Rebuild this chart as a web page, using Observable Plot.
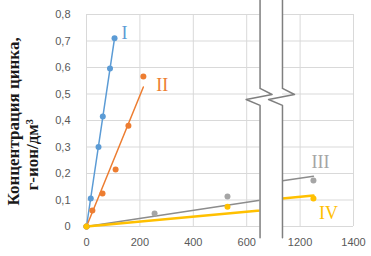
<!DOCTYPE html>
<html><head><meta charset="utf-8">
<script src="https://cdn.jsdelivr.net/npm/d3@7"></script>
<script src="https://cdn.jsdelivr.net/npm/@observablehq/plot@0.6"></script>
<style>body{margin:0;background:#fff} #chart{width:371px;height:256px}</style>
</head><body><div id="chart"></div>
<script>
// ---- data ----
const seriesNames = ["I", "II", "III", "IV"];
const seriesColors = ["#5B9BD5", "#ED7D31", "#A5A5A5", "#FFC000"];
const lineColors = ["#5B9BD5", "#ED7D31", "#8C8C8C", "#FFC000"];
const xI = [0, 16, 45, 61, 88, 105];
const yI = [0, 0.106, 0.30, 0.415, 0.596, 0.71];
const xII = [0, 22, 60, 109, 157, 213];
const yII = [0, 0.06, 0.125, 0.215, 0.38, 0.566];
const xIII = [0, 255, 528, 1250];
const yIII = [0, 0.049, 0.113, 0.174];
const xIV = [0, 528, 1250];
const yIV = [0, 0.075, 0.106];
const xTickLabels = [0, 200, 400, 600, 1200, 1400];
const yTicks = [0, 0.1, 0.2, 0.3, 0.4, 0.5, 0.6, 0.7, 0.8];
const yTitle1 = "Концентрация цинка,";
const yTitle2 = "г-ион/дм³";
// axis break: actual x values at the two edges, and the amount cut out
const BREAK = [650, 1134];
const SHIFT = 400;

function toDisplay(v) {
  if (v <= BREAK[0]) return v;
  if (v >= BREAK[1]) return v - SHIFT;
  return BREAK[0] + (v - BREAK[0]) * ((BREAK[1] - SHIFT - BREAK[0]) / (BREAK[1] - BREAK[0]));
}
const fromDisplay = d => d > BREAK[0] ? d + SHIFT : d;

const xs = [xI, xII, xIII, xIV], ys = [yI, yII, yIII, yIV];
const points = [];
const trend = [];
const lastPts = [];
xs.forEach((xa, s) => {
  const ya = ys[s];
  xa.forEach((x, i) => points.push({s, x: toDisplay(x), y: ya[i]}));
  // linear trend through the origin (least squares)
  const slope = d3.sum(xa, (x, i) => x * ya[i]) / d3.sum(xa, x => x * x);
  const xmax = d3.max(xa);
  const tx = xmax > BREAK[1] ? [0, BREAK[0], BREAK[1], xmax] : [0, xmax];
  tx.forEach(x => trend.push({s, x: toDisplay(x), y: slope * x}));
  lastPts.push({s, x: toDisplay(xa[xa.length - 1]), y: ya[ya.length - 1]});
});

const lo = toDisplay(BREAK[0]), hi = toDisplay(BREAK[1]);
const band = [{x1: lo, x2: hi, y1: -0.042, y2: 0.86}];
function breakLine(x0) {
  return [
    {x: x0, y: 0.86}, {x: x0, y: 0.521}, {x: x0 + 45, y: 0.498},
    {x: x0 - 52, y: 0.479}, {x: x0, y: 0.457}, {x: x0, y: -0.042}
  ];
}
const labelOffsets = [[10, -5], [19, 9], [7, -18], [15, 15]];

const font = "Liberation Sans, Arial, sans-serif";
const chart = Plot.plot({
  width: 371, height: 256,
  marginLeft: 86, marginRight: 18, marginTop: 14, marginBottom: 30,
  style: {background: "#fff", fontFamily: font},
  x: {domain: [0, 1000]},
  y: {domain: [0, 0.8]},
  marks: [
    Plot.gridY(yTicks, {stroke: "#d9d9d9", strokeOpacity: 1}),
    Plot.gridX(xTickLabels.map(toDisplay), {stroke: "#d9d9d9", strokeOpacity: 1}),
    ...[0, 1, 2, 3].map(s => Plot.line(trend.filter(d => d.s === s), {
      x: "x", y: "y", stroke: lineColors[s], strokeWidth: s === 3 ? 2.5 : 1.5
    })),
    ...[0, 1, 2, 3].map(s => Plot.dot(points.filter(d => d.s === s), {
      x: "x", y: "y", r: 3, fill: seriesColors[s], stroke: "none"
    })),
    Plot.rect(band, {x1: "x1", x2: "x2", y1: "y1", y2: "y2", fill: "white"}),
    Plot.line(breakLine(lo), {x: "x", y: "y", stroke: "#7f7f7f", strokeWidth: 1.5}),
    Plot.line(breakLine(hi), {x: "x", y: "y", stroke: "#7f7f7f", strokeWidth: 1.5}),
    ...lastPts.map((p, s) => Plot.text([p], {
      x: "x", y: "y", text: () => seriesNames[s], fill: seriesColors[s],
      fontFamily: "Liberation Serif, Times New Roman, serif", fontSize: 18,
      dx: labelOffsets[s][0], dy: labelOffsets[s][1]
    })),
    Plot.axisX(xTickLabels.map(toDisplay), {
      tickSize: 0, tickPadding: 12, tickFormat: d => String(fromDisplay(d)),
      fontSize: 11, fill: "#595959", label: null
    }),
    Plot.axisY(yTicks, {
      tickSize: 0, tickPadding: 16,
      tickFormat: d => d === 0 ? "0" : d.toFixed(1).replace(".", ","),
      fontSize: 11, fill: "#595959", label: null
    }),
    Plot.text([yTitle1], {
      frameAnchor: "bottom-left", text: d => d, rotate: -90, textAnchor: "start",
      dx: -68, dy: -21, fontSize: 17, fontWeight: "bold", fill: "#1a1a1a",
      fontFamily: "Liberation Serif, Times New Roman, serif"
    }),
    Plot.text([yTitle2], {
      frameAnchor: "bottom-left", text: d => d, rotate: -90, textAnchor: "start",
      dx: -49, dy: -36, fontSize: 17, fontWeight: "bold", fill: "#1a1a1a",
      fontFamily: "Liberation Serif, Times New Roman, serif"
    })
  ]
});
document.getElementById("chart").append(chart);
</script>
</body></html>
